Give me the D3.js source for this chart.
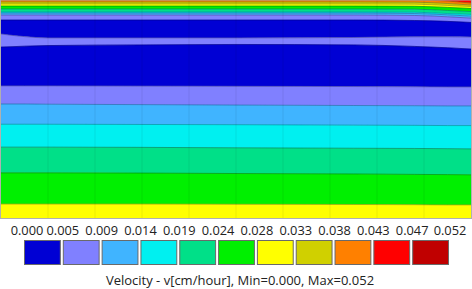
<!DOCTYPE html>
<html><head><meta charset="utf-8">
<script src="https://cdn.jsdelivr.net/npm/d3@7"></script>
<style>
html,body{margin:0;padding:0;background:#fff;}
svg{display:block;}
text{font-family:"Open Sans",sans-serif;fill:#222;}
</style></head>
<body>
<script>
// Contour levels (velocity, cm/hour)
const levelLabels = ["0.000","0.005","0.009","0.014","0.019","0.024","0.028","0.033","0.038","0.043","0.047","0.052"];
const levelColors = ["#0000d4","#8080ff","#40b4ff","#00f0f0","#00e088","#00f000","#ffff00","#d0d000","#ff8000","#ff0000","#c00000"];
const legendTitle = "Velocity - v[cm/hour], Min=0.000, Max=0.052";

// Horizontal stations along the section (% of length)
const stations = [0, 5, 10, 30, 50, 75, 88, 95, 100];

// Contour boundary depths (% of height, 0 = top) at each station, top to bottom
const b00 = [0,0,0,0,0,0,0,0,0];
const b01 = [0,0,0,0,0,0,0,0.5,1.4];
const b02 = [0.9,0.9,0.9,0.9,0.9,0.9,1.0,1.6,2.3];
const b03 = [1.8,1.8,1.8,1.8,1.8,1.8,1.9,2.5,3.0];
const b04 = [2.8,2.8,2.8,2.8,2.8,2.8,2.9,3.4,3.9];
const b05 = [4.1,4.1,4.1,4.1,4.1,4.1,4.2,4.8,5.3];
const b06 = [5.5,5.5,5.5,5.5,5.5,5.5,5.6,6.2,6.6];
const b07 = [6.0,6.0,6.0,6.0,6.0,6.0,6.2,6.8,7.4];
const b08 = [6.9,6.9,6.9,6.9,6.9,6.9,7.1,7.7,8.3];
const b09 = [9.2,9.2,9.2,9.2,9.2,9.2,9.4,9.8,10.3];
const b10 = [15.6,16.8,17.4,17.4,17.4,17.2,16.9,16.9,17.0];
const b11 = [21.6,21.2,20.9,20.6,20.4,20.6,21.3,21.9,22.5];
const b12 = [39.4,39.4,39.4,39.5,39.6,39.7,39.8,39.9,39.9];
const b13 = [47.7,47.7,47.8,48.0,48.2,48.4,48.5,48.6,48.6];
const b14 = [57.0,57.0,57.0,57.1,57.2,57.4,57.5,57.6,57.6];
const b15 = [67.5,67.5,67.5,67.6,67.8,68.0,68.1,68.2,68.3];
const b16 = [79.3,79.3,79.3,79.4,79.6,79.8,80.0,80.1,80.2];
const b17 = [93.6,93.6,93.6,93.6,93.7,93.8,93.9,94.0,94.0];
const b18 = [100,100,100,100,100,100,100,100,100];
const boundaries = [b00,b01,b02,b03,b04,b05,b06,b07,b08,b09,b10,b11,b12,b13,b14,b15,b16,b17,b18];
// Level index of each band between consecutive boundaries
const bandLevels = [9,8,7,6,5,4,3,2,1,0,1,0,1,2,3,4,5,6];
const meshColumns = 10;

const W = 472, H = 289;
const svg = d3.select("body").append("svg").attr("width", W).attr("height", H);

const x = d3.scaleLinear().domain([0,100]).range([1, 471]);
const y = d3.scaleLinear().domain([0,100]).range([0, 218]);

const plot = svg.append("g");
const area = d3.area().curve(d3.curveMonotoneX)
  .x(d => x(d.s)).y0(d => y(d.top)).y1(d => y(d.bot));
const line = d3.line().curve(d3.curveMonotoneX).x(d => x(d.s)).y(d => y(d.v));

bandLevels.forEach((lv, i) => {
  const pts = stations.map((s, k) => ({s, top: boundaries[i][k], bot: boundaries[i+1][k]}));
  plot.append("path").attr("d", area(pts)).attr("fill", levelColors[lv])
    .attr("stroke", levelColors[lv]).attr("stroke-width", 0.6);
});
// contour lines
boundaries.slice(1, -1).forEach(b => {
  plot.append("path").attr("d", line(stations.map((s,k)=>({s, v:b[k]}))))
    .attr("fill","none").attr("stroke","rgba(0,0,40,0.35)").attr("stroke-width",0.8);
});
// faint mesh
d3.range(1, meshColumns).forEach(i => {
  const xx = x(i*100/meshColumns);
  plot.append("line").attr("x1",xx).attr("x2",xx).attr("y1",y(0)).attr("y2",y(100))
    .attr("stroke","rgba(0,0,0,0.07)").attr("stroke-width",1);
});
plot.append("rect").attr("x", x(0)-0.5).attr("y", y(0)).attr("width", x(100)-x(0)+1).attr("height", y(100)-y(0)+0.5)
  .attr("fill","none").attr("stroke","#b0b0b0").attr("stroke-width",1);

// Legend
const lx = d3.scaleLinear().domain([0, levelLabels.length-1]).range([23, 450]);
const legend = svg.append("g");
levelColors.forEach((c, i) => {
  legend.append("rect").attr("x", lx(i)+1.5).attr("y", 240.5)
    .attr("width", lx(i+1)-lx(i)-3).attr("height", 24)
    .attr("fill", c).attr("stroke", "#6a6a6a").attr("stroke-width", 1);
});
levelLabels.forEach((t, i) => {
  legend.append("text").attr("x", lx(i)+ (i===0?4:(i===levelLabels.length-1?0:1))).attr("y", 235)
    .attr("text-anchor","middle").attr("font-size", 12.8).text(t);
});
svg.append("text").attr("x", 240).attr("y", 285).attr("text-anchor","middle")
  .attr("font-size", 13).text(legendTitle);
</script>
</body></html>
